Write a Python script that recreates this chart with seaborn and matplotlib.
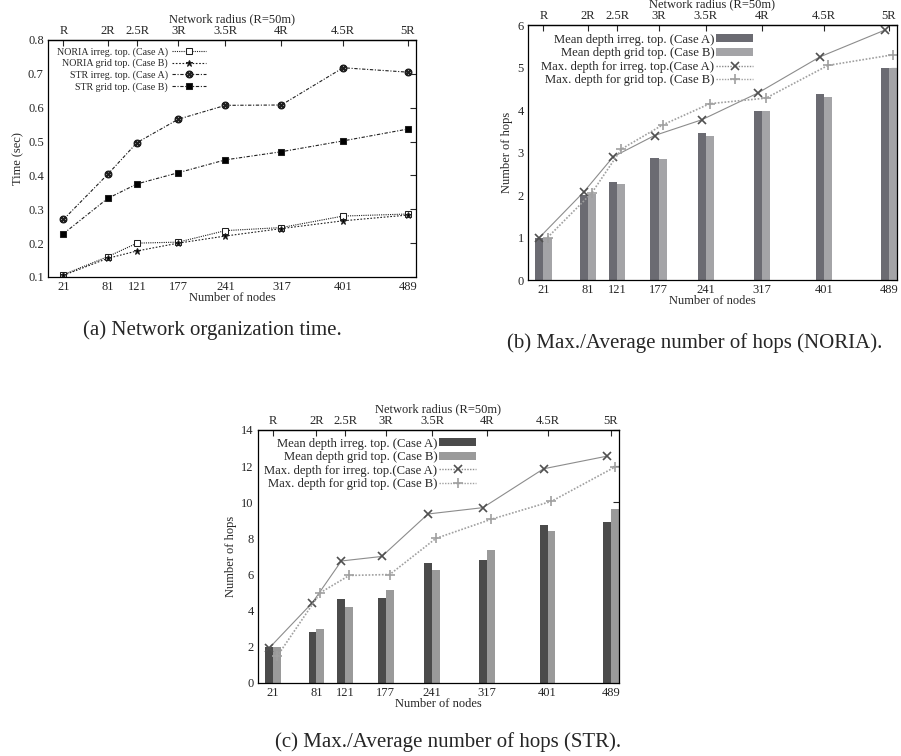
import numpy as np
import pandas as pd
import matplotlib.pyplot as plt
import seaborn as sns
from matplotlib.patches import Patch
from matplotlib.lines import Line2D

# --- data ---
nodes = [21, 81, 121, 177, 241, 317, 401, 489]
radius_labels = ['R', '2R', '2.5R', '3R', '3.5R', '4R', '4.5R', '5R']

# (a) network organization time (sec)
noria_irreg = [0.107, 0.160, 0.200, 0.203, 0.237, 0.246, 0.280, 0.286]
noria_grid = [0.105, 0.155, 0.177, 0.200, 0.221, 0.243, 0.266, 0.283]
str_irreg = [0.270, 0.403, 0.497, 0.566, 0.607, 0.608, 0.718, 0.705]
str_grid = [0.228, 0.332, 0.375, 0.408, 0.446, 0.470, 0.502, 0.537]

# (b) NORIA hops
noria_mean_irreg = [1.00, 2.00, 2.30, 2.88, 3.45, 3.97, 4.37, 5.00]
noria_mean_grid = [1.00, 2.02, 2.27, 2.84, 3.40, 3.97, 4.30, 5.00]
noria_max_irreg = [1.00, 2.07, 2.90, 3.40, 3.77, 4.40, 5.25, 5.88]
noria_max_grid = [1.00, 2.05, 3.08, 3.65, 4.15, 4.28, 5.05, 5.30]

# (c) STR hops
str_mean_irreg = [2.00, 2.80, 4.62, 4.70, 6.65, 6.78, 8.75, 8.92]
str_mean_grid = [2.00, 2.97, 4.22, 5.17, 6.27, 7.37, 8.42, 9.62]
str_max_irreg = [1.93, 4.45, 6.75, 7.00, 9.35, 9.70, 11.85, 12.55]
str_max_grid = [1.47, 5.00, 5.95, 6.00, 8.00, 9.05, 10.05, 11.95]

case_names = ['Case A', 'Case B']

# --- style ---
sns.set_style('white')
plt.rcParams['font.family'] = ['Liberation Serif', 'DejaVu Serif']
plt.rcParams['font.size'] = 9
plt.rcParams['axes.linewidth'] = 0.9
plt.rcParams['xtick.direction'] = 'in'
plt.rcParams['ytick.direction'] = 'in'
plt.rcParams['xtick.major.size'] = 4
plt.rcParams['ytick.major.size'] = 4
plt.rcParams['xtick.major.pad'] = 3
plt.rcParams['ytick.major.pad'] = 3

fig = plt.figure(figsize=(9.01, 7.56), dpi=100)
ax_a = fig.add_axes([0.0533, 0.6336, 0.4084, 0.3135])
ax_b = fig.add_axes([0.586, 0.6296, 0.4095, 0.3373])
ax_c = fig.add_axes([0.2863, 0.0966, 0.4007, 0.3347])


def frame(ax, ylim, yticks, ylabel):
    ax.set_xlim(0, 500)
    ax.set_ylim(*ylim)
    ax.set_xticks(nodes)
    ax.set_xticklabels([str(n) for n in nodes])
    ax.set_yticks(yticks)
    ax.tick_params(axis='y', right=True, labelright=False)
    ax.tick_params(axis='x', top=False)
    for s in ax.spines.values():
        s.set_color('black')
    ax.set_xlabel('Number of nodes', labelpad=-1)
    ax.set_ylabel(ylabel, labelpad=3)
    top = ax.secondary_xaxis('top')
    top.set_xticks(nodes)
    top.set_xticklabels(radius_labels)
    top.tick_params(direction='in', length=4, pad=2)
    top.set_xlabel('Network radius (R=50m)', labelpad=2)


# ---------- (a) organization time ----------
series_a = [
    (noria_irreg, 'NORIA irreg. top. (Case A)', (0, (1, 1)), 's', 'white', 4),
    (noria_grid, 'NORIA grid top. (Case B)', (0, (1.5, 1.5)), '*', 'black', 4.5),
    (str_irreg, 'STR irreg. top. (Case A)', (0, (3, 1.5, 1, 1.5)), r'$\otimes$', 'black', 5),
    (str_grid, 'STR grid top. (Case B)', (0, (3, 1.5, 1, 1.5)), 's', 'black', 3.8),
]
for vals, lab, ls, mk, mfc, ms in series_a:
    sns.lineplot(x=nodes, y=vals, ax=ax_a, color='#202020', linestyle=ls, lw=0.8,
                 marker=mk, mfc=mfc, mec='#202020', markersize=ms, label=lab)
frame(ax_a, (0.1, 0.8), np.arange(0.1, 0.81, 0.1), 'Time (sec)')
ax_a.set_yticklabels([f'{v:.1f}' for v in np.arange(0.1, 0.81, 0.1)])
ax_a.legend(loc='upper right', bbox_to_anchor=(0.445, 0.995), frameon=False,
            markerfirst=False, fontsize=7.2, handlelength=3.4, labelspacing=0.2,
            borderaxespad=0.2, handletextpad=0.4)


# ---------- (b) / (c) hops ----------
bar_w = 11


def hops_panel(ax, mean_a, mean_b, max_a, max_b, colors, ylim, yticks, anchor):
    df = pd.DataFrame({
        'nodes': nodes * 2,
        'hops': mean_a + mean_b,
        'case': [case_names[0]] * len(nodes) + [case_names[1]] * len(nodes),
    })
    sns.barplot(data=df, x='nodes', y='hops', hue='case', native_scale=True,
                width=2 * bar_w / 40, palette=colors, saturation=1, errorbar=None,
                legend=False, ax=ax, linewidth=0)
    xa = np.array(nodes) - bar_w / 2
    xb = np.array(nodes) + bar_w / 2
    sns.lineplot(x=xa, y=max_a, ax=ax, color='#8c8c8c', lw=0.8, marker='x',
                 markersize=6, mec='#505050', mew=1.2)
    sns.lineplot(x=xb, y=max_b, ax=ax, color='#a0a0a0', lw=1.2, linestyle=(0, (1, 1)),
                 marker='+', markersize=7, mec='#a0a0a0', mew=1.2)
    frame(ax, ylim, yticks, 'Number of hops')
    handles = [
        Patch(facecolor=colors[0], edgecolor='none'),
        Patch(facecolor=colors[1], edgecolor='none'),
        Line2D([], [], color='#8c8c8c', lw=1, linestyle=(0, (1, 1)), marker='x',
               markersize=6, mec='#505050', mew=1.2),
        Line2D([], [], color='#a0a0a0', lw=1, linestyle=(0, (1, 1)), marker='+',
               markersize=7, mec='#a0a0a0', mew=1.2),
    ]
    labels = ['Mean depth irreg. top. (Case A)', 'Mean depth grid top. (Case B)',
              'Max. depth for irreg. top.(Case A)', 'Max. depth for grid top. (Case B)']
    ax.legend(handles, labels, loc='upper right', bbox_to_anchor=anchor, frameon=False,
              markerfirst=False, fontsize=9.1, handlelength=2.9, handleheight=0.6,
              labelspacing=0.12, borderaxespad=0.2, handletextpad=0.15)


hops_panel(ax_b, noria_mean_irreg, noria_mean_grid, noria_max_irreg, noria_max_grid,
           ['#6b6b72', '#a4a4a7'], (0, 6), range(0, 7), (0.63, 0.995))
hops_panel(ax_c, str_mean_irreg, str_mean_grid, str_max_irreg, str_max_grid,
           ['#4b4b4b', '#9a9a9a'], (0, 14), range(0, 15, 2), (0.625, 1.0))

# captions
fig.text(212 / 901, 1 - 330 / 756, '(a) Network organization time.', ha='center',
         va='center', fontsize=15)
fig.text(695 / 901, 1 - 343 / 756, '(b) Max./Average number of hops (NORIA).',
         ha='center', va='center', fontsize=15)
fig.text(448 / 901, 1 - 742 / 756, '(c) Max./Average number of hops (STR).',
         ha='center', va='center', fontsize=15)

fig.savefig('out.png', dpi=100)
